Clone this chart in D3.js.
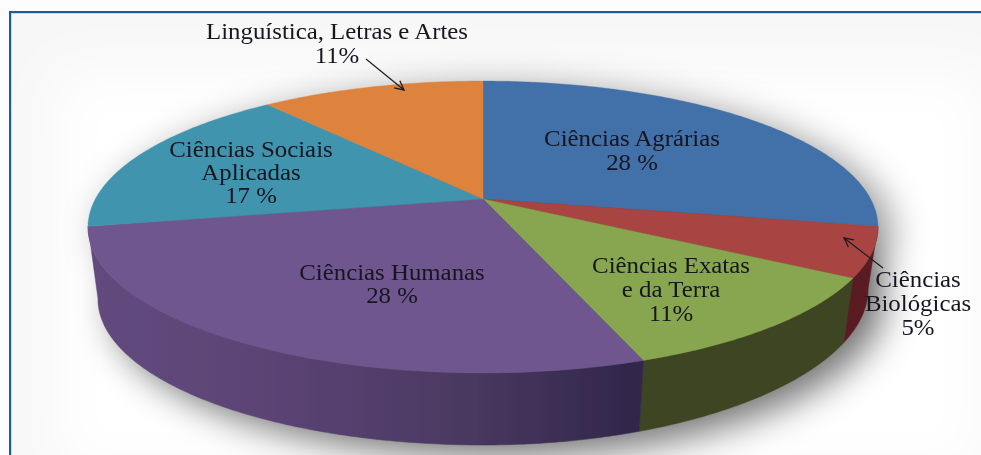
<!DOCTYPE html>
<html lang="pt">
<head>
<meta charset="utf-8">
<script src="https://cdn.jsdelivr.net/npm/d3@7"></script>
<style>
html,body{margin:0;padding:0;background:#fdfdfd;overflow:hidden}
svg{display:block}
text{font-family:"Liberation Serif","Times New Roman",serif;fill:#16161f;text-anchor:middle}
</style>
</head>
<body>
<svg id="chart" width="981" height="455"></svg>
<script>
// ---- data ----
const categories = ["Ciências Agrárias","Ciências Biológicas","Ciências Exatas e da Terra","Ciências Humanas","Ciências Sociais Aplicadas","Linguística, Letras e Artes"];
const values = [28, 5.5, 11, 27.5, 17, 11];
const printedLabels = [
  ["Ciências Agrárias","28 %"],
  ["Ciências","Biológicas","5%"],
  ["Ciências Exatas","e da Terra","11%"],
  ["Ciências Humanas","28 %"],
  ["Ciências Sociais","Aplicadas","17 %"],
  ["Linguística, Letras e Artes","11%"]
];
const topColors  = ["#4270a8","#a84442","#88a64f","#70568f","#3f94ad","#dd833c"];
const wallColors = ["#2e4e76","#5a1f20","#3c4420","url(#purpleWall)","#2b6779","#9a5b2a"];

// ---- layout (separate from data) ----
const W = 981, H = 455;
const cx = 483, cy = 199, rx = 387.6, ry = 140.6, persp = 0.192, depth = 72, bottomScale = 0.975, rimLift = 10;
const labelAnchors = [[632,146],[918,287],[671,273],[392,280],[251,157],[337,39]];
const lineStep = [24,24,24,23,23,24];
const fontSize = 23, stretchX = 1.08;
const arrows = [[[366,59],[404,90]],[[883,268],[844,238]]];

const svg = d3.select("#chart");
const defs = svg.append("defs");

const blur = (id, s) => defs.append("filter").attr("id", id)
  .attr("x", "-20%").attr("y", "-30%").attr("width", "140%").attr("height", "160%")
  .append("feGaussianBlur").attr("stdDeviation", s);
blur("soft", 0.55);
blur("textSoft", 0.4);
blur("shadow", 18);
blur("vign", 28);

const grad = defs.append("linearGradient").attr("id","purpleWall")
  .attr("gradientUnits","userSpaceOnUse").attr("x1",88).attr("x2",642).attr("y1",0).attr("y2",0);
[[0,"#634a7e"],[0.35,"#5a4374"],[0.65,"#4c3a63"],[1,"#30264a"]].forEach(([o,c]) =>
  grad.append("stop").attr("offset",o).attr("stop-color",c));

const arrowDef = defs.append("marker").attr("id","head").attr("viewBox","0 0 12 12")
  .attr("refX",11).attr("refY",6).attr("markerWidth",12).attr("markerHeight",12)
  .attr("markerUnits","userSpaceOnUse").attr("orient","auto");
arrowDef.append("path").attr("d","M2,1.5L11,6L2,10.5").attr("fill","none").attr("stroke","#1c1c22").attr("stroke-width",1.3);

// perspective projection of a tilted disc; lower = bottom rim of the wall
function project(theta, radius, lower) {
  const X = Math.sin(theta) * radius, Z = Math.cos(theta) * radius;
  const d = 1 + persp * Z;
  const s = lower ? bottomScale : 1;
  const lift = lower && X > 0 ? rimLift * X * X : 0;
  return [cx + rx * s * X / d, cy + (lower ? depth - lift : 0) - ry * Z / d];
}
const line = d3.line();
const sample = (a, b) => {
  const n = Math.max(2, Math.ceil((b - a) / 0.01));
  return d3.range(n + 1).map(i => a + (b - a) * i / n);
};
const pieData = d3.pie().sort(null).value(d => d)(values);
const isFront = d => Math.cos((d.startAngle + d.endAngle) / 2) < 0;

// background panel
const bg = svg.append("g");
bg.append("rect").attr("x",11).attr("y",13).attr("width",W-11).attr("height",H-13).attr("fill","#f7f7f7");
bg.append("rect").attr("x",55).attr("y",70).attr("width",W-50).attr("height",H-50)
  .attr("fill","#ffffff").attr("filter","url(#vign)");

// soft shadow of the disc
const fullAngles = sample(0, 2 * Math.PI);
const shadow = svg.append("g").attr("filter","url(#shadow)").attr("fill","#000");
shadow.append("path")
  .attr("d", line(fullAngles.map(t => project(t, 1, true))) + "Z")
  .attr("transform","translate(16,11)").attr("fill-opacity",0.55);
shadow.append("path")
  .attr("d", line(fullAngles.map(t => project(t, 1, false))) + "Z")
  .attr("transform","translate(14,6)").attr("fill-opacity",0.4);

// frame (top and left only)
const frame = svg.append("g").attr("fill","#225a94");
frame.append("rect").attr("x",9).attr("y",11).attr("width",W-9).attr("height",2.2);
frame.append("rect").attr("x",9).attr("y",11).attr("width",2.2).attr("height",H-11);

// pie
const pie3d = svg.append("g").attr("filter","url(#soft)");
pie3d.selectAll("path.wall").data(pieData.filter(isFront)).join("path")
  .attr("class","wall")
  .attr("fill",d => wallColors[d.index])
  .attr("stroke",d => wallColors[d.index]).attr("stroke-width",0.5)
  .attr("d", d => {
    const a = sample(d.startAngle, d.endAngle);
    return line(a.map(t => project(t,1,false)).concat(a.slice().reverse().map(t => project(t,1,true)))) + "Z";
  });
pie3d.selectAll("path.face").data(pieData).join("path")
  .attr("class","face")
  .attr("fill",d => topColors[d.index])
  .attr("stroke",d => topColors[d.index]).attr("stroke-width",0.4)
  .attr("d", d => line([project(0,0,false)].concat(sample(d.startAngle,d.endAngle).map(t => project(t,1,false)))) + "Z");

// leader arrows
svg.append("g").selectAll("line").data(arrows).join("line")
  .attr("x1",d => d[0][0]).attr("y1",d => d[0][1])
  .attr("x2",d => d[1][0]).attr("y2",d => d[1][1])
  .attr("stroke","#1c1c22").attr("stroke-width",1.2).attr("marker-end","url(#head)");

// labels
const labels = svg.append("g").attr("filter","url(#textSoft)").attr("font-size",fontSize);
printedLabels.forEach((lines,i) => {
  lines.forEach((s,j) => labels.append("text")
    .attr("transform",`translate(${labelAnchors[i][0]},${labelAnchors[i][1] + j * lineStep[i]}) scale(${stretchX},1)`)
    .text(s));
});
</script>
</body>
</html>
